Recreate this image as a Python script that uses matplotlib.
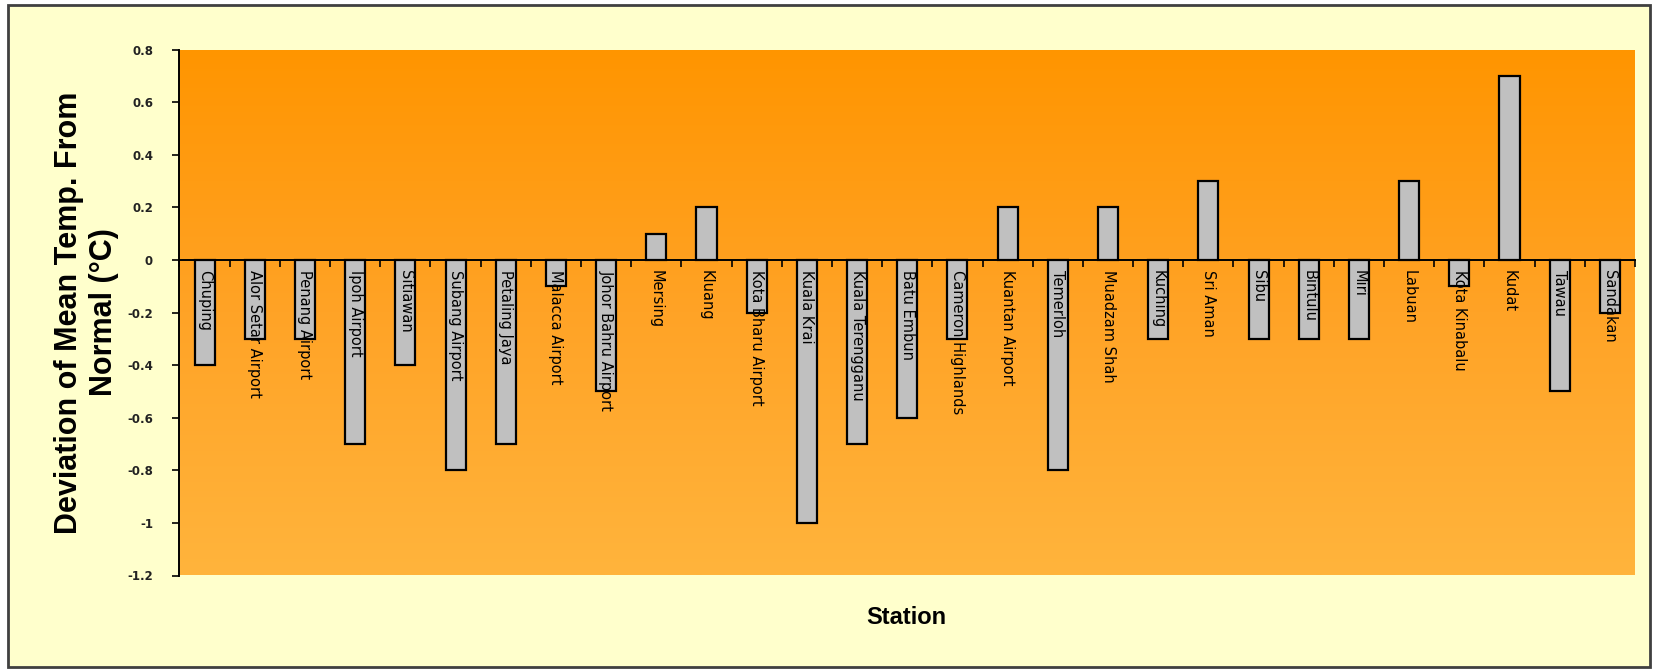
import numpy as np
import matplotlib.pyplot as plt
from matplotlib import font_manager
from matplotlib.patches import Rectangle
from matplotlib.colors import LinearSegmentedColormap

# === DATA ===
stations = [
    "Chuping", "Alor Setar Airport", "Penang Airport", "Ipoh Airport", "Sitiawan",
    "Subang Airport", "Petaling Jaya", "Malacca Airport", "Johor Bahru Airport",
    "Mersing", "Kluang", "Kota Bharu Airport", "Kuala Krai", "Kuala Terengganu",
    "Batu Embun", "Cameron Highlands", "Kuantan Airport", "Temerloh", "Muadzam Shah",
    "Kuching", "Sri Aman", "Sibu", "Bintulu", "Miri", "Labuan", "Kota Kinabalu",
    "Kudat", "Tawau", "Sandakan",
]
deviation = [
    -0.4, -0.3, -0.3, -0.7, -0.4,
    -0.8, -0.7, -0.1, -0.5,
    0.1, 0.2, -0.2, -1.0, -0.7,
    -0.6, -0.3, 0.2, -0.8, 0.2,
    -0.3, 0.3, -0.3, -0.3, -0.3, 0.3, -0.1,
    0.7, -0.5, -0.2,
]
yticks = [0.8, 0.6, 0.4, 0.2, 0, -0.2, -0.4, -0.6, -0.8, -1, -1.2]
ytick_labels = ["0.8", "0.6", "0.4", "0.2", "0", "-0.2", "-0.4", "-0.6", "-0.8", "-1", "-1.2"]

# narrow bold font for the y label if it is installed
installed = {f.name for f in font_manager.fontManager.ttflist}
if "Liberation Sans Narrow" in installed:
    ylab_family, ylab_size = "Liberation Sans Narrow", 25
else:
    ylab_family, ylab_size = "Liberation Sans", 22

# === FIGURE ===
W, H = 1656, 671
fig = plt.figure(figsize=(W / 100, H / 100), dpi=100, facecolor="white")

# outer chart frame (behind the axes)
frame = Rectangle((8 / W, 4 / H), (1650 - 8) / W, (667 - 5) / H,
                  transform=fig.transFigure, facecolor="#FFFFCC",
                  edgecolor="#404040", linewidth=2, zorder=-10)
fig.patches.append(frame)

left, right = 179.5 / W, 1635 / W
bottom, top = 1 - 575.5 / H, 1 - 49.6 / H
ax = fig.add_axes([left, bottom, right - left, top - bottom])
ax.set_zorder(1)
ax.set_facecolor("none")

n = len(stations)
x = np.arange(n)

# orange gradient plot area
grad = np.linspace(0, 1, 256).reshape(-1, 1)
cmap = LinearSegmentedColormap.from_list("plotbg", ["#FF9500", "#FFA326", "#FFB43C"])
ax.imshow(grad, extent=[-0.5, n - 0.5, -1.2, 0.8], aspect="auto",
          cmap=cmap, origin="upper", zorder=0)

ax.bar(x, deviation, width=0.4, color="#C0C0C0", edgecolor="black",
       linewidth=1.6, zorder=1)

ax.set_xlim(-0.5, n - 0.5)
ax.set_ylim(-1.2, 0.8)

# axes styling
for side in ["top", "right"]:
    ax.spines[side].set_visible(False)
ax.spines["bottom"].set_position(("data", 0))
ax.spines["bottom"].set_linewidth(1.4)
ax.spines["left"].set_linewidth(1.4)

ax.set_yticks(yticks)
ax.set_yticklabels(ytick_labels, fontsize=8.5, fontweight="bold", color="#222222")
ax.tick_params(axis="y", direction="out", length=5, width=1.2, pad=14)

ax.set_xticks(x)
ax.set_xticklabels(stations, rotation=-90, fontsize=10.5, va="top", ha="center")
ax.set_xticks(np.arange(n + 1) - 0.5, minor=True)
ax.tick_params(axis="x", which="major", length=0, pad=7)
ax.tick_params(axis="x", which="minor", direction="out", length=5, width=1.2)

ax.set_ylabel("Deviation of Mean Temp. From\nNormal (°C)", fontsize=ylab_size,
              fontweight="bold", family=ylab_family, labelpad=6, linespacing=1.2)
fig.text(906 / W, 1 - 618 / H, "Station", fontsize=17, fontweight="bold",
         family="Liberation Sans", ha="center", va="center")

plt.savefig("out.png", dpi=100, facecolor="white")
